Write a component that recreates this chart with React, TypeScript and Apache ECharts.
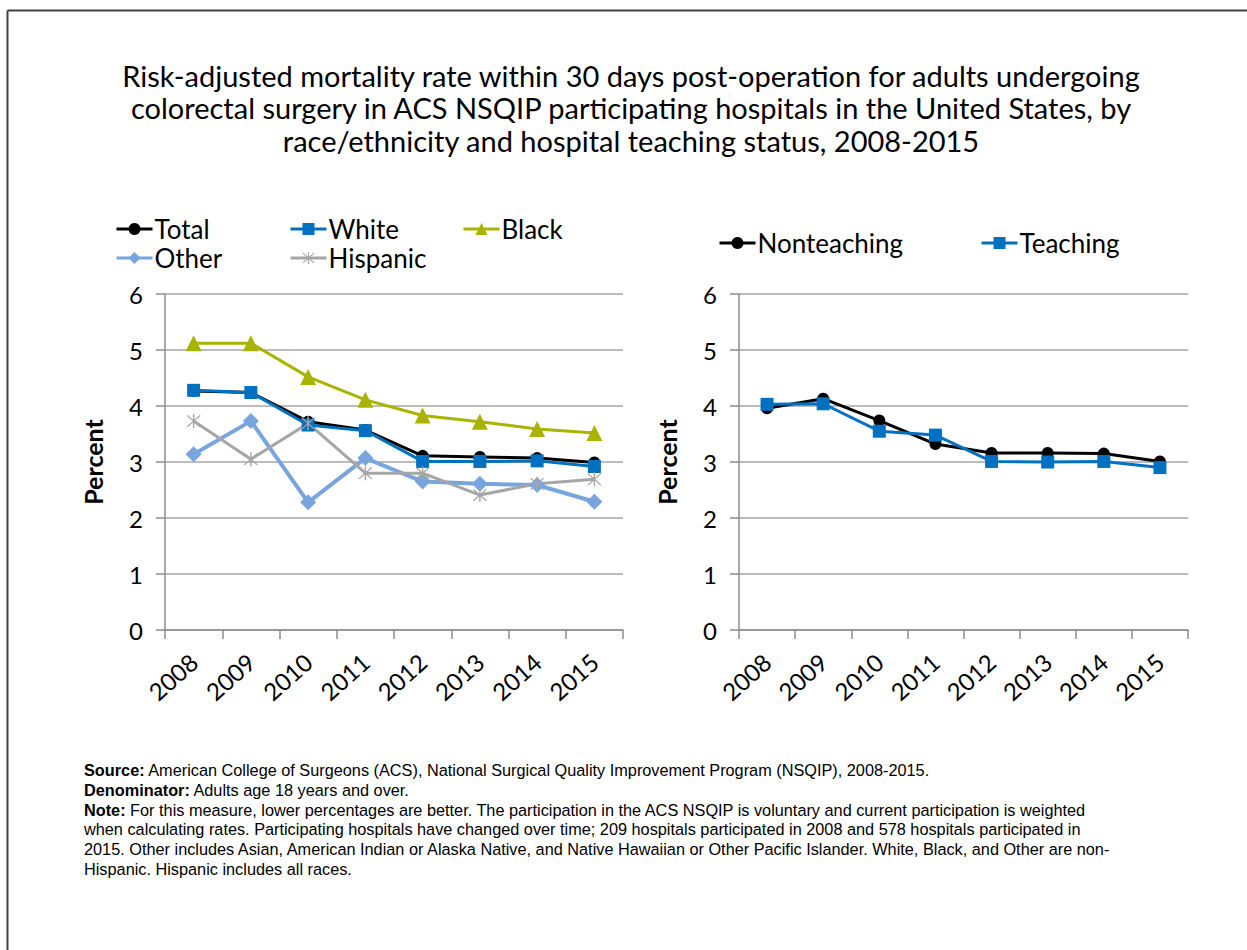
import React, { useEffect, useRef } from "react";
import * as echarts from "echarts";

const years = ["2008", "2009", "2010", "2011", "2012", "2013", "2014", "2015"];
const total = [4.27, 4.24, 3.72, 3.57, 3.11, 3.09, 3.07, 2.99];
const white = [4.28, 4.24, 3.66, 3.56, 3.01, 3.01, 3.02, 2.92];
const black = [5.12, 5.12, 4.52, 4.11, 3.83, 3.72, 3.59, 3.52];
const other = [3.14, 3.73, 2.28, 3.07, 2.65, 2.61, 2.59, 2.29];
const hispanic = [3.73, 3.05, 3.69, 2.80, 2.80, 2.41, 2.61, 2.69];
const nonteaching = [3.96, 4.13, 3.74, 3.32, 3.16, 3.16, 3.15, 3.01];
const teaching = [4.03, 4.04, 3.55, 3.48, 3.01, 3.00, 3.01, 2.90];

const titleLines = [
  "Risk-adjusted mortality rate within 30 days post-operation for adults undergoing",
  "colorectal surgery in ACS NSQIP participating hospitals in the United States, by",
  "race/ethnicity and hospital teaching status, 2008-2015",
];

const noteLines = [
  ["Source:", " American College of Surgeons (ACS), National Surgical Quality Improvement Program (NSQIP), 2008-2015."],
  ["Denominator:", " Adults age 18 years and over."],
  ["Note:", " For this measure, lower percentages are better. The participation in the ACS NSQIP is voluntary and current participation is weighted"],
  ["", "when calculating rates. Participating hospitals have changed over time; 209 hospitals participated in 2008 and 578 hospitals participated in"],
  ["", "2015. Other includes Asian, American Indian or Alaska Native, and Native Hawaiian or Other Pacific Islander. White, Black, and Other are non-"],
  ["", "Hispanic. Hispanic includes all races."],
];

const STAR =
  "path://M9.1 0 H10.9 V20 H9.1 Z M1.2 2.4 L2.4 1.2 L18.8 17.6 L17.6 18.8 Z M17.6 1.2 L18.8 2.4 L2.4 18.8 L1.2 17.6 Z";

const FONT = "Lato";
const NOTE_FONT = "Liberation Sans";

export default function App() {
  const ref = useRef<HTMLDivElement>(null);
  useEffect(() => {
    if (!ref.current) return;
    const chart = echarts.init(ref.current, undefined, { renderer: "svg" });

    const makeX = (gridIndex: number) => ({
      type: "category",
      gridIndex,
      data: years,
      boundaryGap: true,
      axisLine: { show: true, lineStyle: { color: "#8c8c8c", width: 1.5 } },
      axisTick: { show: true, alignWithLabel: false, length: 9, lineStyle: { color: "#8c8c8c", width: 1.5 } },
      axisLabel: { rotate: 42, fontSize: 24, fontFamily: FONT, color: "#000", margin: 28, interval: 0 },
      splitLine: { show: false },
    });
    const makeY = (gridIndex: number) => ({
      type: "value",
      gridIndex,
      min: 0,
      max: 6,
      interval: 1,
      name: "Percent",
      nameLocation: "middle",
      nameGap: 60,
      nameTextStyle: { fontSize: 25, fontWeight: "bold", fontFamily: FONT, color: "#000" },
      axisLine: { show: true, lineStyle: { color: "#8c8c8c", width: 1.5 } },
      axisTick: { show: true, length: 9, lineStyle: { color: "#8c8c8c", width: 1.5 } },
      axisLabel: { fontSize: 24, fontFamily: FONT, color: "#000", margin: 22 },
      splitLine: { show: true, lineStyle: { color: "#a6a6a6", width: 1.5 } },
    });

    const line = (name: string, data: number[], color: string, symbol: string, symbolSize: number, idx: number, width = 3) => ({
      name,
      type: "line",
      xAxisIndex: idx,
      yAxisIndex: idx,
      data,
      symbol,
      symbolSize,
      lineStyle: { color, width },
      itemStyle: { color },
      emphasis: { disabled: true },
    });

    const legend = (name: string, left: number, cy: number) => ({
      data: [name],
      left,
      top: cy - 13,
      padding: 0,
      itemGap: 0,
      itemWidth: 36,
      itemHeight: 15,
      selectedMode: false,
      lineStyle: { width: 3 },
      textStyle: { fontSize: 26, fontFamily: FONT, color: "#000", padding: [0, 0, 0, -3] },
    });

    chart.setOption({
      animation: false,
      backgroundColor: "#fff",
      grid: [
        { left: 165, right: 1247 - 623, top: 294, height: 336 },
        { left: 739, right: 1247 - 1188, top: 294, height: 336 },
      ],
      xAxis: [makeX(0), makeX(1)],
      yAxis: [makeY(0), makeY(1)],
      legend: [
        legend("Total", 115, 229),
        legend("White", 289, 229),
        legend("Black", 462, 229),
        legend("Other", 115, 258),
        legend("Hispanic", 289, 258),
        legend("Nonteaching", 718, 243),
        legend("Teaching", 980, 243),
      ],
      series: [
        line("Total", total, "#000000", "circle", 12, 0),
        line("White", white, "#0070c0", "rect", 13, 0),
        line("Black", black, "#a8b400", "triangle", 16, 0),
        line("Other", other, "#78a5df", "diamond", 16, 0, 4),
        line("Hispanic", hispanic, "#a6a6a6", STAR, 14, 0),
        line("Nonteaching", nonteaching, "#000000", "circle", 12, 1),
        line("Teaching", teaching, "#0070c0", "rect", 13, 1),
      ],
      graphic: [
        { type: "line", shape: { x1: 7.5, y1: 10.5, x2: 1247, y2: 10.5 }, style: { stroke: "#404040", lineWidth: 2 } },
        { type: "line", shape: { x1: 7.5, y1: 10.5, x2: 7.5, y2: 950 }, style: { stroke: "#404040", lineWidth: 2 } },
        {
          type: "text",
          x: 631,
          y: 59,
          style: {
            text: titleLines.join("\n"),
            textAlign: "center",
            fontSize: 29,
            lineHeight: 32.5,
            fontFamily: FONT,
            fill: "#000",
          },
        },
        ...noteLines.map((l, i) => ({
          type: "text",
          x: 84,
          y: 762 + i * 19.8,
          style: {
            text: (l[0] ? "{b|" + l[0] + "}" : "") + l[1],
            fontSize: 16.3,
            fontFamily: NOTE_FONT,
            fill: "#000",
            rich: { b: { fontWeight: "bold", fontSize: 16.3, fontFamily: NOTE_FONT, fill: "#000" } },
          },
        })),
      ],
    });
    return () => chart.dispose();
  }, []);
  return <div ref={ref} style={{ position: "absolute", left: 0, top: 0, width: 1247, height: 950 }} />;
}
